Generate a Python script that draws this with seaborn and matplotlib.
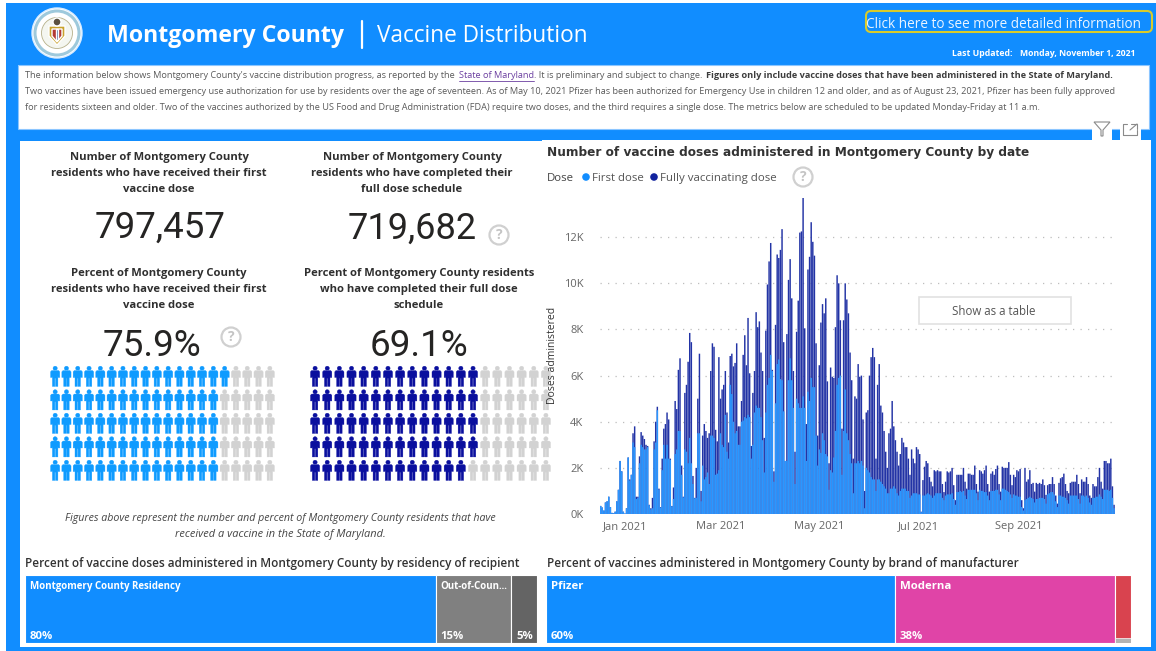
### Montgomery County vaccine distribution dashboard ###
import numpy as np
import pandas as pd
import seaborn as sns
import matplotlib
matplotlib.use("Agg")
import matplotlib.pyplot as plt
from matplotlib.patches import Rectangle, FancyBboxPatch, Circle, Polygon
from matplotlib.path import Path as MplPath

# daily doses in thousands, starts Dec 16 2020
total_k = [
    .02, .35, .28, .15, .5, .55, .75, .3, .05, .03,
    .1, .55, 1.05, 2.3, 1.85, .1, .02, .25, 2.45, 1.5,
    1.7, 3.5, 3.8, .75, .75, 2.5, 3.55, 3.4, 3.25, 3.0,
    2.95, .4, .25, .7, 3.15, 4.0, 4.65, 1.1, .3, 2.4,
    3.7, 3.9, 4.4, 4.1, 2.4, .35, 1.15, 4.9, 4.55, 6.25,
    6.75, 2.1, .75, 5.25, 5.6, 6.6, 7.85, 7.45, 1.65, .7,
    2.0, 5.0, 6.95, 1.0, 3.4, 3.9, 3.6, 3.3, 3.5, 6.2,
    7.4, 7.25, 3.65, 3.15, 6.8, 5.0, 5.4, 5.6, 6.2, 4.4,
    3.1, 6.85, 6.95, 6.4, 6.55, 7.4, 3.8, 3.8, 4.9, 6.9,
    7.75, 6.45, 8.5, 6.1, 2.95, 5.25, 6.2, 8.75, 8.1, 8.35,
    7.0, 6.2, 3.3, 7.95, 9.95, 10.95, 11.75, 6.25, 1.85, 8.2,
    11.25, 11.1, 11.45, 12.35, 7.45, 2.3, 7.8, 10.15, 11.05, 9.35,
    6.2, 2.7, 7.9, 9.25, 12.2, 12.25, 13.7, 8.05, 3.9, 10.6,
    11.15, 12.65, 11.8, 11.2, 7.4, 3.4, 6.45, 8.3, 9.1, 8.7,
    9.35, 5.75, 2.2, 6.35, 5.95, 5.9, 8.1, 10.35, 10.0, 8.4,
    3.7, 8.4, 10.0, 9.3, 8.7, 7.0, 5.8, 2.4, 5.1, 5.0,
    6.5, 5.95, 6.0, 4.1, 1.0, 4.4, 4.5, 6.0, 6.8, 7.2,
    6.8, 2.4, 5.6, 6.5, 4.7, 4.4, 3.6, 2.7, 2.0, 3.5,
    3.7, 4.9, 3.8, 3.2, 2.7, 2.1, 2.6, 3.3, 3.1, 2.9,
    2.9, 2.4, 1.7, 2.8, 2.4, 2.2, 2.9, 2.8, 2.6, .1,
    1.47, 2.05, 2.3, 2.2, 1.6, 1.4, 1.2,
    1.9, 1.85, 1.9, 1.85, 1.85, 1.3, .95,
    1.4, 1.85, 1.8, 1.85, 2.0, 1.25, .6,
    1.7, 1.7, 1.7, 1.7, 2.0, 1.4, 1.1,
    1.75, 1.75, 1.7, 1.7, 2.1, 1.3, .97,
    1.9, 1.85, 1.75, 1.9, 2.1, 1.3, .97,
    1.75, 1.85, 1.7, 1.95, 2.1, 1.3, .97,
    2.05, 2.0, 2.0, 2.0, 2.25, 1.7, 1.25,
    1.7, 1.6, 1.9, 1.85, 1.95, .6, .25,
    2.0, 1.4, 1.5, 1.9, 1.3, 1.35, .97,
    1.35, 1.3, 1.35, 1.3, 1.5, 1.25, .83,
    1.25, 1.3, 1.3, 1.6, 1.3, .8, .45,
    1.35, 1.55, 1.6, 1.75, 1.3, 1.0, .9,
    1.35, 1.4, 1.4, 1.4, 1.7, 1.3, .9,
    1.5, 1.4, 1.4, 1.6, 1.3, .8, .7,
    1.3, 1.2, 1.2, 1.6, 2.0, 1.4, 1.1,
    2.3, 2.3, 2.2, 2.2, 2.4, 1.2, .4,
]
first_k = [
    .02, .35, .28, .15, .5, .55, .75, .3, .05, .03,
    .1, .55, 1.05, 2.3, 1.85, .1, .02, .25, 2.45, 1.45,
    1.7, 3.1, 2.9, .65, .7, 2.2, 3.0, 2.9, 2.8, 2.8,
    2.9, .38, .2, .25, 2.8, 3.1, 4.5, 1.05, .28, 1.9,
    3.0, 2.4, 3.0, 2.4, 2.35, .33, .65, 2.6, 2.8, 3.6,
    3.6, 1.7, .72, 2.8, 2.7, 2.2, 3.3, 2.2, 1.3, .68,
    .7, 3.5, 3.5, .55, 2.1, 1.5, 1.6, 1.8, 1.3, 3.4,
    3.4, 3.3, 1.7, 1.75, 1.9, 3.5, 3.0, 2.9, 4.3, 2.7,
    2.4, 5.6, 5.2, 4.0, 3.5, 3.6, 3.0, 3.0, 4.0, 4.05,
    4.2, 4.15, 4.3, 4.2, 2.4, 3.0, 4.4, 4.7, 4.6, 4.6,
    4.2, 3.2, 1.8, 4.4, 5.6, 5.9, 6.9, 6.2, 1.4, 4.8,
    6.5, 6.7, 5.85, 5.8, 4.45, 2.3, 2.3, 5.8, 6.75, 5.8,
    4.6, 1.3, 5.0, 4.8, 4.6, 4.6, 5.1, 4.6, 2.3, 5.3,
    4.9, 5.9, 5.5, 5.5, 3.4, 2.1, 2.8, 2.65, 3.5, 3.2,
    2.6, 2.5, 1.05, 1.9, 1.8, 2.45, 3.6, 5.6, 5.9, 6.0,
    1.7, 3.6, 5.4, 3.5, 3.2, 2.6, 2.2, .9, 2.2, 2.2,
    2.3, 2.2, 2.3, 2.1, .25, 2.0, 1.9, 1.8, 1.6, 1.5,
    1.5, 1.0, 1.5, 1.5, 1.4, 1.3, 1.2, 1.1, .9, .9,
    1.1, 1.1, 1.2, 1.1, .9, .8, 1.0, 1.1, 1.1, 1.1,
    1.0, 1.0, .7, .8, .9, .9, .9, .85, .85, .08,
    .8, .8, .85, .9, .85, .8, .7,
    .8, .9, .9, .9, .9, .7, .6,
    .8, .85, .85, .85, .9, .65, .4,
    .95, .95, 1.0, .95, 1.0, .8, .65,
    1.05, 1.05, 1.05, 1.05, 1.05, .9, .6,
    1.05, 1.0, 1.0, .95, .95, .8, .6,
    1.0, 1.0, 1.0, 1.05, 1.05, .85, .6,
    1.1, 1.1, 1.05, 1.0, .95, .85, .7,
    .85, .8, .8, .75, .75, .3, .15,
    .6, .65, .7, .75, .7, .65, .5,
    .65, .65, .7, .7, .7, .65, .45,
    .85, .9, .95, .95, .85, .55, .3,
    .8, .8, .75, .75, .7, .6, .45,
    .8, .8, .8, .8, .8, .65, .45,
    .8, .8, .75, .8, .7, .5, .4,
    .7, .7, .75, .75, .85, .75, .65,
    1.05, 1.05, 1.05, 1.0, 1.05, .7, .25,
]
month_ticks = ["2021-01-01", "2021-03-01", "2021-05-01", "2021-07-01", "2021-09-01"]
month_labels = ["Jan 2021", "Mar 2021", "May 2021", "Jul 2021", "Sep 2021"]
y_ticks = [0, 2, 4, 6, 8, 10, 12]

residency_labels = ["Montgomery County Residency", "Out-of-Coun...", ""]
residency_pct = [79.8, 14.7, 5.0]
residency_text = ["80%", "15%", "5%"]
brand_labels = ["Pfizer", "Moderna", ""]
brand_pct = [59.6, 37.6, 2.8]
brand_text = ["60%", "38%", ""]

first_people = 76
full_people = 69

BLUE = "#118DFF"
NAVY = "#12239E"
BODY = "Open Sans"

sns.set_theme(style="white")
plt.rcParams["font.family"] = [BODY, "DejaVu Sans"]

fig = plt.figure(figsize=(11.56, 6.51), dpi=100, facecolor="white")
renderer = fig.canvas.get_renderer()


def box(x0, y0, x1, y1):
    return fig.add_axes([x0 / 1156, 1 - y1 / 651, (x1 - x0) / 1156, (y1 - y0) / 651])


page = box(0, 0, 1156, 651)
page.set_xlim(0, 1156)
page.set_ylim(651, 0)
page.axis("off")


def put(x, y, s, w=None, size=8, color="#333333", ha="left", **kw):
    t = page.text(x, y + 1.5, s, fontsize=size, color=color, ha=ha, va="center", **kw)
    if w:
        t.set_fontsize(size * w / t.get_window_extent(renderer).width)
    return t


def rect(x0, y0, x1, y1, color, **kw):
    page.add_patch(Rectangle((x0, y0), x1 - x0, y1 - y0, facecolor=color, linewidth=0, **kw))


def help_icon(x, y):
    page.add_patch(Circle((x, y), 9.5, facecolor="white", edgecolor="#d0d0d0", linewidth=1.6))
    put(x, y - 1.5, "?", size=10, color="#c4c4c4", ha="center", fontweight="bold")


# page background
rect(6, 3, 1156, 651, BLUE)
rect(18, 65, 1149, 129, "white")
page.add_patch(Rectangle((18, 65), 1131, 64, facecolor="none", edgecolor="#8cc6ff", linewidth=0.8))
rect(20, 141, 542, 647, "white")
rect(542, 140, 1151, 647, "white")
rect(1092, 122, 1112, 141, "white")
rect(1120, 122, 1141, 141, "white")

# filter + focus icons
page.add_patch(Polygon([(1094, 122), (1110, 122), (1103, 130), (1103, 136), (1101, 136), (1101, 130)],
                       closed=True, facecolor="white", edgecolor="#8a8a8a", linewidth=0.8))
page.plot([1127, 1123, 1123, 1137, 1137], [124, 124, 135, 135, 130], color="#8a8a8a", lw=0.8)
page.plot([1131, 1137, 1137], [124, 124, 129], color="#8a8a8a", lw=0.8)
page.plot([1130, 1137], [130, 124], color="#8a8a8a", lw=0.8)

# county seal
page.add_patch(Circle((57, 33), 25, facecolor="white", edgecolor="#d8ecff", linewidth=1))
page.add_patch(Circle((57, 33), 22, facecolor="none", edgecolor="#9ec9dc", linewidth=2.2))
page.add_patch(Circle((57, 33), 15.5, facecolor="#f4f6f0", edgecolor="#b6b08a", linewidth=0.6))
page.add_patch(Polygon([(49, 26), (65, 26), (65, 36), (57, 45), (49, 36)], closed=True, facecolor="#c9a22c"))
page.add_patch(Polygon([(52, 29), (62, 29), (62, 36), (57, 42), (52, 36)], closed=True, facecolor="#b33a34"))
page.add_patch(Rectangle((56, 29), 2, 11, facecolor="#3b5d9a"))
page.add_patch(Circle((57, 22), 4, facecolor="#5a5040"))

# header
put(107, 34, "Montgomery County", w=238, size=18, color="white", fontweight="bold")
page.plot([362, 362], [21, 48], color="white", lw=1.6)
put(377, 34, "Vaccine Distribution", w=211, size=18, color="white")
page.add_patch(FancyBboxPatch((866, 11), 286, 21, boxstyle="round,pad=0,rounding_size=5",
                              facecolor="none", edgecolor="#D9CB2A", linewidth=1.5))
put(866, 22.5, "Click here to see more detailed information", w=276, size=11, color="#EAF4FF")
put(952, 52, "Last Updated:", w=60, size=6.5, color="white", fontweight="bold")
put(1020, 52, "Monday, November 1, 2021", w=116, size=6.5, color="white", fontweight="bold")

# intro text
GREY = "#5a5a5a"
put(25, 74, "The information below shows Montgomery County's vaccine distribution progress, as reported by the",
    w=430, size=6.5, color=GREY)
put(459, 74, "State of Maryland", w=75, size=6.5, color="#6B3FA0")
page.plot([459, 534], [80.5, 80.5], color="#6B3FA0", lw=0.6)
put(534, 74, ". It is preliminary and subject to change.", w=168, size=6.5, color=GREY)
put(706, 74, "Figures only include vaccine doses that have been administered in the State of Maryland.",
    w=401, size=6.5, color="#3c3c3c", fontweight="bold")
put(25, 90, "Two vaccines have been issued emergency use authorization for use by residents over the age of "
    "seventeen. As of May 10, 2021 Pfizer has been authorized for Emergency Use in children 12 and older, "
    "and as of August 23, 2021, Pfizer has been fully approved", w=1092, size=6.5, color=GREY)
put(25, 106, "for residents sixteen and older. Two of the vaccines authorized by the US Food and Drug "
    "Administration (FDA) require two doses, and the third requires a single dose. The metrics below are "
    "scheduled to be updated Monday-Friday at 11 a.m.", w=1018, size=6.5, color=GREY)

# KPI headings
kpi_blocks = [
    (159, 156, ["Number of Montgomery County", "residents who have received their first", "vaccine dose"]),
    (412, 156, ["Number of Montgomery County", "residents who have completed their", "full dose schedule"]),
    (159, 272, ["Percent of Montgomery County", "residents who have received their first", "vaccine dose"]),
    (419, 272, ["Percent of Montgomery County residents", "who have completed their full dose", "schedule"]),
]
for cx, top, lines in kpi_blocks:
    for i, line in enumerate(lines):
        put(cx, top + 16 * i, line, size=8.1, ha="center", fontweight="bold", color="#2f2f2f")

put(160, 226, "797,457", w=131, size=28, ha="center", family="Roboto", color="#252423")
put(412, 227, "719,682", w=129, size=28, ha="center", family="Roboto", color="#252423")
put(152, 344, "75.9%", w=99, size=28, ha="center", family="Roboto", color="#252423")
put(419, 344, "69.1%", w=99, size=28, ha="center", family="Roboto", color="#252423")
help_icon(499, 235)
help_icon(231, 337)
help_icon(803, 177)

put(280, 517, "Figures above represent the number and percent of Montgomery County residents that have",
    w=430, size=7.5, ha="center", style="italic", color="#444444")
put(280, 533, "received a vaccine in the State of Maryland.", w=210, size=7.5, ha="center", style="italic", color="#444444")

# person marker
person = MplPath.make_compound_path(
    MplPath.circle((0, 0.78), 0.21),
    MplPath([(-0.34, 0.56), (0.34, 0.56), (0.45, 0.44), (0.45, -0.12), (0.3, -0.12), (0.27, 0.05),
             (0.27, -1), (0.03, -1), (0.03, -0.2), (-0.03, -0.2), (-0.03, -1), (-0.27, -1),
             (-0.27, 0.05), (-0.3, -0.12), (-0.45, -0.12), (-0.45, 0.44), (-0.34, 0.56)], closed=False),
)


def people(x0, x1, filled, color):
    ax = box(x0, 364.5, x1, 482)
    cols, rows = np.meshgrid(np.arange(20), np.arange(5), indexing="ij")
    grid = pd.DataFrame({"col": cols.ravel(), "row": rows.ravel()})
    grid["state"] = ["on" if i < filled else "off" for i in range(len(grid))]
    sns.scatterplot(data=grid, x="col", y="row", hue="state", hue_order=["on", "off"],
                    palette=[color, "#d2d2d2"], marker=person, s=215, linewidth=0.25,
                    edgecolor="face", legend=False, ax=ax)
    ax.set_xlim(-0.5, 19.5)
    ax.set_ylim(4.5, -0.5)
    ax.axis("off")


people(49.5, 275.5, first_people, "#0F9BFF")
people(309, 552, full_people, "#0A0F9E")

# daily doses chart
put(547, 151, "Number of vaccine doses administered in Montgomery County by date", w=482, size=10,
    family="DejaVu Sans", fontweight="bold", color="#333333")
put(547, 177, "Dose", w=27, size=8, color="#444444")
page.add_patch(Circle((586, 177), 4.5, facecolor=BLUE))
put(592, 177, "First dose", w=52, size=8, color="#555555")
page.add_patch(Circle((654, 177), 4.5, facecolor=NAVY))
put(660, 177, "Fully vaccinating dose", w=117, size=8, color="#555555")

page.add_patch(Rectangle((919, 297), 152, 27, facecolor="white", edgecolor="#e2e2e2", linewidth=1.2))
put(994, 310, "Show as a table", w=84, size=8, ha="center", color="#555555")

dates = pd.date_range("2020-12-16", periods=len(total_k))
doses = pd.DataFrame({
    "day": (dates - pd.Timestamp("2021-01-01")).days,
    "total": total_k,
    "first": first_k,
})

ax = box(600, 180, 1116, 514)
ax.patch.set_alpha(0)
sns.barplot(data=doses, x="day", y="total", native_scale=True, color="#2233A5", saturation=1,
            width=0.9, errorbar=None, linewidth=0, ax=ax)
sns.barplot(data=doses, x="day", y="first", native_scale=True, color="#2A97FF", saturation=1,
            width=0.9, errorbar=None, linewidth=0, ax=ax)
# no pixel snapping, the bars are under 2px wide
for bar in ax.patches:
    bar.set_snap(False)
ax.set_xlim(-15.4, 303.2)
ax.set_ylim(0, 14.48)
ax.set_yticks(y_ticks, [f"{v}K" for v in y_ticks])
ax.set_xticks((pd.to_datetime(month_ticks) - pd.Timestamp("2021-01-01")).days, month_labels)
ax.tick_params(axis="both", length=0, labelsize=8, labelcolor="#666666", pad=5)
ax.tick_params(axis="y", pad=12)
ax.yaxis.grid(True, linestyle=(0, (1, 5)), color="#bdbdbd", linewidth=0.9)
ax.xaxis.grid(False)
ax.set_axisbelow(True)
sns.despine(ax=ax, left=True, bottom=True)
ax.set_xlabel("")
ax.set_ylabel("Doses administered", fontsize=7.5, color="#333333")
ax.yaxis.set_label_coords((558 - 600) / 516, (514 - 355) / 334)

# treemaps
put(25, 562, "Percent of vaccine doses administered in Montgomery County by residency of recipient",
    w=495, size=9, color="#333333", fontweight="semibold")
put(547, 562, "Percent of vaccines administered in Montgomery County by brand of manufacturer",
    w=471, size=9, color="#333333", fontweight="semibold")


def treemap(x0, x1, values, colors, names, texts, name_size):
    ax = box(x0, 575, x1, 643)
    left = 0
    for v, c, name, txt in zip(values, colors, names, texts):
        ax.barh(0, v, left=left, height=1, color=c, edgecolor="white", linewidth=0.8)
        if name:
            ax.text(left + 5 * 100 / (x1 - x0), 0.33, name, color="white", fontsize=name_size,
                    fontweight="bold", va="center")
        if txt:
            ax.text(left + 5 * 100 / (x1 - x0), -0.4, txt, color="white", fontsize=8.2,
                    fontweight="bold", va="center")
        left += v
    ax.set_xlim(0, sum(values))
    ax.set_ylim(-0.5, 0.5)
    ax.axis("off")
    return ax


treemap(25, 537, residency_pct, [BLUE, "#808080", "#646464"], residency_labels, residency_text, 7)
brand_ax = treemap(546, 1131, brand_pct, [BLUE, "#E044A7", "#D9434F"], brand_labels, brand_text, 8.2)
brand_ax.barh(-0.46, brand_pct[2], left=sum(brand_pct[:2]), height=0.08, color="#B3B3B3",
              edgecolor="white", linewidth=0.5)

fig.savefig("out.png", dpi=100, facecolor="white")
